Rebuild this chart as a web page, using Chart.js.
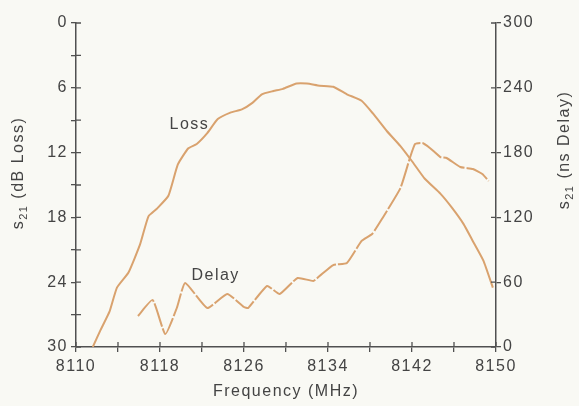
<!DOCTYPE html>
<html>
<head>
<meta charset="utf-8">
<script src="https://cdn.jsdelivr.net/npm/chart.js@4/dist/chart.umd.min.js"></script>
<style>
  html, body { margin: 0; padding: 0; background: #f9f9f4; }
  #wrap { width: 579px; height: 406px; }
</style>
</head>
<body>
<div id="wrap"><canvas id="chart"></canvas></div>
<script>
// frequency (MHz) / loss (dB)
const lossFreq = [8111.6, 8112.3, 8113.2, 8113.9, 8115.0, 8116.1, 8116.9, 8117.7, 8118.8, 8119.7,
  8120.7, 8121.5, 8122.5, 8123.5, 8124.7, 8125.8, 8126.8, 8127.7, 8128.8, 8129.7,
  8131.0, 8132.0, 8133.2, 8134.5, 8135.8, 8137.2, 8138.3, 8139.6, 8140.9, 8142.0,
  8143.2, 8144.7, 8145.8, 8146.9, 8147.8, 8148.8, 8149.7];
const lossDb = [30.0, 28.5, 26.7, 24.5, 23.1, 20.5, 17.9, 17.2, 16.0, 13.1,
  11.6, 11.2, 10.2, 8.9, 8.3, 8.0, 7.4, 6.6, 6.3, 6.1,
  5.6, 5.6, 5.8, 5.9, 6.6, 7.2, 8.4, 10.0, 11.4, 12.8,
  14.4, 15.8, 17.1, 18.6, 20.2, 22.0, 24.5];

// frequency (MHz) / delay (ns)
const delayFreq = [8115.9, 8117.3, 8118.5, 8119.6, 8120.4, 8122.5, 8124.4, 8126.0, 8126.4, 8128.2,
  8129.4, 8131.1, 8132.6, 8133.2, 8134.5, 8135.8, 8137.2, 8138.2, 8139.2, 8140.9,
  8141.8, 8142.3, 8143.0, 8143.7, 8144.7, 8145.3, 8146.6, 8147.8, 8148.7, 8149.3];
const delayNs = [28.7, 43.5, 12.0, 36.1, 59.3, 36.1, 49.1, 37.0, 36.1, 56.5,
  49.1, 63.9, 61.1, 65.7, 75.9, 77.8, 98.2, 104.6, 119.5, 147.2,
  175.0, 188.0, 188.9, 184.3, 175.9, 175.0, 166.7, 164.8, 160.2, 153.7];

const curveColor = '#d9a26e';
const axisColor = '#505050';
const textColor = '#444444';
const fontFamily = '"Liberation Sans", Arial, sans-serif';

const pairs = (xs, ys) => xs.map((x, i) => ({ x, y: ys[i] }));

// letter spacing so the Helvetica-ish text looks as wide as the scan
const spacing = {
  id: 'spacing',
  beforeLayout(chart) { chart.ctx.letterSpacing = '1.5px'; },
  beforeDraw(chart) { chart.ctx.letterSpacing = '1.5px'; }
};

// tick marks that cross the axis line (inner half)
const crossTicks = {
  id: 'crossTicks',
  afterDraw(chart) {
    const { ctx, chartArea, scales } = chart;
    ctx.save();
    ctx.strokeStyle = axisColor;
    ctx.lineWidth = 1.3;
    ctx.beginPath();
    scales.x.ticks.forEach(t => {
      const px = scales.x.getPixelForValue(t.value);
      ctx.moveTo(px, chartArea.bottom);
      ctx.lineTo(px, chartArea.bottom - 5);
    });
    scales.yLoss.ticks.forEach(t => {
      const py = scales.yLoss.getPixelForValue(t.value);
      ctx.moveTo(chartArea.left, py);
      ctx.lineTo(chartArea.left + 5, py);
    });
    scales.yDelay.ticks.forEach(t => {
      const py = scales.yDelay.getPixelForValue(t.value);
      ctx.moveTo(chartArea.right - 5, py);
      ctx.lineTo(chartArea.right, py);
    });
    ctx.stroke();
    ctx.restore();
  }
};

function drawSubTitle(ctx, x, y, rest) {
  ctx.save();
  ctx.translate(x, y);
  ctx.rotate(-Math.PI / 2);
  ctx.fillStyle = textColor;
  ctx.textBaseline = 'middle';
  ctx.textAlign = 'left';
  const big = '16px ' + fontFamily;
  const small = '11px ' + fontFamily;
  ctx.font = big;
  const w1 = ctx.measureText('s').width;
  const w3 = ctx.measureText(rest).width;
  ctx.font = small;
  const w2 = ctx.measureText('21').width;
  let cx = -(w1 + w2 + w3) / 2;
  ctx.font = big;
  ctx.fillText('s', cx, 0);
  cx += w1;
  ctx.font = small;
  ctx.fillText('21', cx, 5);
  cx += w2;
  ctx.font = big;
  ctx.fillText(rest, cx, 0);
  ctx.restore();
}

// curve labels and the two side titles
const labels = {
  id: 'labels',
  afterDraw(chart) {
    const { ctx, scales } = chart;
    ctx.save();
    ctx.fillStyle = textColor;
    ctx.font = '16px ' + fontFamily;
    ctx.textAlign = 'center';
    ctx.textBaseline = 'middle';
    ctx.fillText('Loss', scales.x.getPixelForValue(8120.8), scales.yLoss.getPixelForValue(9.4));
    ctx.fillText('Delay', scales.x.getPixelForValue(8123.3), scales.yDelay.getPixelForValue(66));
    ctx.restore();
    drawSubTitle(ctx, 19, 173, ' (dB Loss)');
    drawSubTitle(ctx, 565, 150, ' (ns Delay)');
  }
};

new Chart(document.getElementById('chart'), {
  type: 'line',
  data: {
    datasets: [
      {
        label: 'Loss',
        data: pairs(lossFreq, lossDb),
        yAxisID: 'yLoss',
        borderColor: curveColor,
        borderWidth: 2,
        pointRadius: 0,
        tension: 0.15,
        fill: false
      },
      {
        label: 'Delay',
        data: pairs(delayFreq, delayNs),
        yAxisID: 'yDelay',
        borderColor: curveColor,
        borderWidth: 2,
        borderDash: [24, 2],
        pointRadius: 0,
        tension: 0.15,
        fill: false
      }
    ]
  },
  options: {
    responsive: true,
    maintainAspectRatio: false,
    animation: false,
    layout: { padding: { top: 23, left: 0, right: 0, bottom: 0 } },
    plugins: {
      legend: { display: false },
      tooltip: { enabled: false }
    },
    scales: {
      x: {
        type: 'linear',
        min: 8110,
        max: 8150,
        afterFit(scale) { scale.height = 59; },
        border: { color: axisColor, width: 1.5 },
        grid: { drawOnChartArea: false, tickLength: 5, color: axisColor, lineWidth: 1.3 },
        ticks: {
          stepSize: 4,
          color: textColor,
          font: { family: fontFamily, size: 16 },
          padding: 5,
          maxRotation: 0,
          autoSkip: false,
          callback: v => ((v - 8110) % 8 === 0 ? String(v) : '')
        },
        title: {
          display: true,
          text: 'Frequency (MHz)',
          color: textColor,
          font: { family: fontFamily, size: 16 },
          padding: { top: 0, bottom: 5 }
        }
      },
      yLoss: {
        type: 'linear',
        position: 'left',
        reverse: true,
        min: 0,
        max: 30,
        afterFit(scale) { scale.width = 76; },
        border: { color: axisColor, width: 1.5 },
        grid: { drawOnChartArea: false, tickLength: 5, color: axisColor, lineWidth: 1.3 },
        ticks: {
          stepSize: 3,
          color: textColor,
          font: { family: fontFamily, size: 16 },
          padding: 3,
          autoSkip: false,
          callback: v => (v % 6 === 0 ? String(v) : '')
        }
      },
      yDelay: {
        type: 'linear',
        position: 'right',
        min: 0,
        max: 300,
        afterFit(scale) { scale.width = 83; },
        border: { color: axisColor, width: 1.5 },
        grid: { drawOnChartArea: false, tickLength: 5, color: axisColor, lineWidth: 1.3 },
        ticks: {
          stepSize: 60,
          color: textColor,
          font: { family: fontFamily, size: 16 },
          padding: 2,
          autoSkip: false,
          callback: v => String(v)
        }
      }
    }
  },
  plugins: [spacing, crossTicks, labels]
});
</script>
</body>
</html>
